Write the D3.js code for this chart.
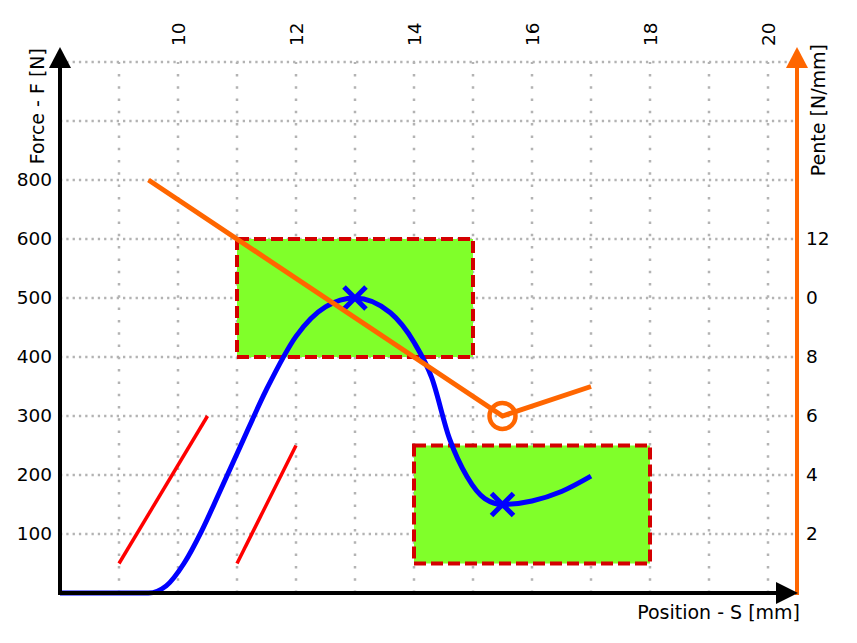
<!DOCTYPE html>
<html>
<head>
<meta charset="utf-8">
<script src="https://cdn.jsdelivr.net/npm/d3@7"></script>
<style>
  body { margin: 0; background: #fff; }
  text { font-family: "DejaVu Sans", Verdana, sans-serif; }
</style>
</head>
<body>
<div id="chart"></div>
<script>
// ---- data ----
var forceTicks = [100, 200, 300, 400, 500, 600, 700];
var forceLabels = ["100", "200", "300", "400", "500", "600", "800"];
var penteTicks = [2, 4, 6, 8, 10, 12];
var penteLabels = ["2", "4", "6", "8", "0", "12"];
var positionTicks = [10, 12, 14, 16, 18, 20];
var gridX = [9, 10, 11, 12, 13, 14, 15, 16, 17, 18, 19, 20];
var gridY = [100, 200, 300, 400, 500, 600, 700, 800, 900];

// blue force curve (position, force)
var curvePos = [8, 9.5, 9.8, 10.1, 10.4, 10.7, 11.05, 11.5, 12.0, 12.5, 13.0, 13.6, 14.0, 14.3, 14.6, 14.9, 15.2, 15.5, 16.0, 16.5, 17.0];
var curveForce = [0, 0, 12, 50, 105, 170, 247, 345, 435, 485, 500, 475, 425, 365, 262, 197, 160, 150, 156, 172, 198];

// orange slope line (position, pente)
var slopePos = [9.5, 15.5, 17];
var slopeVal = [14, 6, 7];

// x markers (position, force)
var markPos = [13, 15.5];
var markForce = [500, 150];

// red lines [s0, f0, s1, f1]
var redLines = [[9, 50, 10.5, 300], [11, 50, 12, 250]];

// tolerance windows [s0, s1, f0, f1]
var windows = [[11, 15, 400, 600], [14, 18, 50, 250]];

// ---- setup ----
var svgWidth = 857, svgHeight = 643;
var svg = d3.select("#chart").append("svg")
    .attr("width", svgWidth)
    .attr("height", svgHeight);

var x = d3.scaleLinear().domain([8, 20.5]).range([60, 797.5]);
var y = d3.scaleLinear().domain([0, 900]).range([593, 62]);
var yR = d3.scaleLinear().domain([0, 18]).range([593, 62]);

// grid
svg.append("g").selectAll("line").data(gridX).enter().append("line")
    .attr("x1", d => x(d)).attr("x2", d => x(d))
    .attr("y1", y(0)).attr("y2", y(900))
    .attr("stroke", "#b3b3b3").attr("stroke-width", 2.5)
    .attr("stroke-dasharray", "2.5,9.8");
svg.append("g").selectAll("line").data(gridY).enter().append("line")
    .attr("x1", x(8)).attr("x2", 797)
    .attr("y1", d => y(d)).attr("y2", d => y(d))
    .attr("stroke", "#b3b3b3").attr("stroke-width", 2.5)
    .attr("stroke-dasharray", "2.3,4");

// green windows
svg.append("g").selectAll("rect").data(windows).enter().append("rect")
    .attr("x", d => x(d[0]))
    .attr("y", d => y(d[3]))
    .attr("width", d => x(d[1]) - x(d[0]))
    .attr("height", d => y(d[2]) - y(d[3]))
    .attr("fill", "#80ff2a")
    .attr("stroke", "#d40000")
    .attr("stroke-width", 4)
    .attr("stroke-dasharray", "12,5");

// red lines
svg.append("g").selectAll("line").data(redLines).enter().append("line")
    .attr("x1", d => x(d[0])).attr("y1", d => y(d[1]))
    .attr("x2", d => x(d[2])).attr("y2", d => y(d[3]))
    .attr("stroke", "#ff0000").attr("stroke-width", 3.5);

// blue curve
var curveData = curvePos.map((s, i) => [s, curveForce[i]]);
svg.append("path")
    .datum(curveData)
    .attr("fill", "none")
    .attr("stroke", "#0000ff")
    .attr("stroke-width", 5)
    .attr("d", d3.line().x(d => x(d[0])).y(d => y(d[1])).curve(d3.curveMonotoneX));

// x markers
var marks = svg.append("g").selectAll("g").data(markPos).enter().append("g")
    .attr("transform", (d, i) => `translate(${x(d)},${y(markForce[i])})`);
marks.append("path")
    .attr("d", "M-11,-11L11,11M-11,11L11,-11")
    .attr("stroke", "#0000ff").attr("stroke-width", 5);

// orange slope
var slopeData = slopePos.map((s, i) => [s, slopeVal[i]]);
svg.append("path")
    .datum(slopeData)
    .attr("fill", "none")
    .attr("stroke", "#ff6600")
    .attr("stroke-width", 5)
    .attr("d", d3.line().x(d => x(d[0])).y(d => yR(d[1])));
svg.append("circle")
    .attr("cx", x(slopePos[1])).attr("cy", yR(slopeVal[1]))
    .attr("r", 13)
    .attr("fill", "none").attr("stroke", "#ff6600").attr("stroke-width", 4.5);

// ---- axes ----
var leftAxis = d3.axisLeft(y).tickValues(forceTicks)
    .tickFormat((d, i) => forceLabels[i]).tickSize(0).tickPadding(8);
svg.append("g").attr("transform", `translate(${x(8)},0)`).call(leftAxis)
    .call(g => g.select(".domain").remove())
    .selectAll("text").attr("font-size", 18.5).attr("fill", "#000")
    .style("font-family", "DejaVu Sans");

var rightAxis = d3.axisRight(yR).tickValues(penteTicks)
    .tickFormat((d, i) => penteLabels[i]).tickSize(0).tickPadding(9);
svg.append("g").attr("transform", "translate(797,0)").call(rightAxis)
    .call(g => g.select(".domain").remove())
    .selectAll("text").attr("font-size", 18.5).attr("fill", "#000")
    .style("font-family", "DejaVu Sans");

var topAxis = d3.axisTop(x).tickValues(positionTicks).tickSize(0).tickFormat(d3.format("d"));
svg.append("g").attr("transform", "translate(0,46)").call(topAxis)
    .call(g => g.select(".domain").remove())
    .selectAll("text")
    .attr("font-size", 18.5).attr("fill", "#000")
    .style("font-family", "DejaVu Sans")
    .attr("text-anchor", "start")
    .attr("transform", "rotate(-90)")
    .attr("x", 0).attr("y", 0).attr("dy", "0.35em");

// axis lines + arrows
svg.append("line").attr("x1", 60).attr("x2", 60).attr("y1", 595).attr("y2", 62)
    .attr("stroke", "#000").attr("stroke-width", 4);
svg.append("path").attr("d", "M60,47L49,68L71,68Z").attr("fill", "#000");

svg.append("line").attr("x1", 797).attr("x2", 797).attr("y1", 595).attr("y2", 62)
    .attr("stroke", "#ff6600").attr("stroke-width", 4);
svg.append("path").attr("d", "M797,47L786,68L808,68Z").attr("fill", "#ff6600");

svg.append("line").attr("x1", 58).attr("x2", 780).attr("y1", 593).attr("y2", 593)
    .attr("stroke", "#000").attr("stroke-width", 4);
svg.append("path").attr("d", "M798,593L776,582L776,604Z").attr("fill", "#000");

// axis titles
svg.append("text")
    .attr("transform", "translate(44,48) rotate(-90)")
    .attr("text-anchor", "end")
    .attr("font-size", 19)
    .text("Force - F [N]");

svg.append("text")
    .attr("transform", "translate(825,44) rotate(-90)")
    .attr("text-anchor", "end")
    .attr("font-size", 19)
    .text("Pente [N/mm]");

svg.append("text")
    .attr("x", 800).attr("y", 619)
    .attr("text-anchor", "end")
    .attr("font-size", 19)
    .text("Position - S [mm]");
</script>
</body>
</html>
